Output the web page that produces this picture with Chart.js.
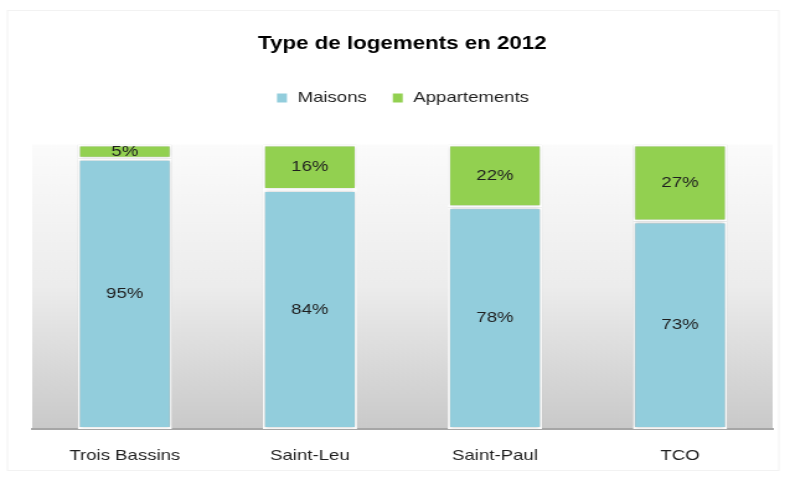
<!DOCTYPE html>
<html>
<head>
<meta charset="utf-8">
<script src="https://cdn.jsdelivr.net/npm/chart.js@4"></script>
<style>
  body { margin: 0; background: #fff; }
</style>
</head>
<body>
<!-- drawn narrower and stretched sideways, like the original picture -->
<canvas id="logements" width="633" height="477" style="width:785px;height:477px;display:block"></canvas>
<script>
const categories = ['Trois Bassins', 'Saint-Leu', 'Saint-Paul', 'TCO'];
const maisons = [95, 84, 78, 73];
const appartements = [5, 16, 22, 27];

const font = "'Liberation Sans', Arial, sans-serif";

// gradient behind the bars + faint outer frame
const plotBackground = {
  id: 'plotBackground',
  beforeLayout(chart) {
    // extra room under the legend
    const lg = chart.legend;
    if (lg && !lg._patched) {
      const fit = lg.fit;
      lg.fit = function () { fit.call(this); this.height += 29; };
      lg._patched = true;
    }
  },
  beforeDraw(chart) {
    const { ctx, chartArea: a } = chart;
    ctx.save();
    ctx.strokeStyle = '#f2f2f2';
    ctx.lineWidth = 1;
    ctx.strokeRect(6, 10.5, 622, 460);
    const g = ctx.createLinearGradient(0, a.top, 0, a.bottom);
    g.addColorStop(0, '#fbfbfb');
    g.addColorStop(0.5, '#ececec');
    g.addColorStop(1, '#c9c9c9');
    ctx.fillStyle = g;
    ctx.fillRect(a.left, a.top, a.right - a.left, a.bottom - a.top);
    ctx.restore();
  },
  beforeDatasetsDraw(chart) {
    chart.ctx.save();
    chart.ctx.shadowColor = 'rgba(0,0,0,0.25)';
    chart.ctx.shadowBlur = 3;
  },
  afterDatasetsDraw(chart) {
    chart.ctx.restore();
  }
};

// percentage labels in the middle of each segment
const segmentLabels = {
  id: 'segmentLabels',
  afterDatasetsDraw(chart) {
    const { ctx } = chart;
    ctx.save();
    ctx.font = '15px ' + font;
    ctx.fillStyle = '#1f1f1f';
    ctx.textAlign = 'center';
    ctx.textBaseline = 'middle';
    chart.data.datasets.forEach((ds, i) => {
      chart.getDatasetMeta(i).data.forEach((bar, j) => {
        const mid = (bar.y + bar.base) / 2;
        ctx.fillText(ds.data[j] + '%', bar.x, mid);
      });
    });
    ctx.restore();
  }
};

new Chart(document.getElementById('logements'), {
  type: 'bar',
  data: {
    labels: categories,
    datasets: [
      {
        label: 'Maisons',
        data: maisons,
        backgroundColor: '#92cddc',
        borderColor: '#ffffff',
        borderWidth: 2,
        borderSkipped: false
      },
      {
        label: 'Appartements',
        data: appartements,
        backgroundColor: '#92d050',
        borderColor: '#ffffff',
        borderWidth: 2,
        borderSkipped: false
      }
    ]
  },
  options: {
    responsive: false,
    animation: false,
    devicePixelRatio: 1,
    datasets: { bar: { categoryPercentage: 1, barPercentage: 0.51 } },
    layout: { padding: { left: 26, right: 10, bottom: -6 } },
    scales: {
      x: {
        stacked: true,
        grid: { display: false, drawTicks: false },
        border: { color: '#a6a6a6', width: 2 },
        ticks: { color: '#1f1f1f', font: { family: font, size: 15 }, padding: 18 }
      },
      y: {
        stacked: true,
        display: false,
        min: 0,
        max: 100
      }
    },
    plugins: {
      title: {
        display: true,
        text: 'Type de logements en 2012',
        color: '#000',
        font: { family: font, size: 18, weight: 'bold' },
        padding: { top: 33, bottom: 16 }
      },
      legend: {
        labels: {
          color: '#1f1f1f',
          font: { family: font, size: 15 },
          boxWidth: 10,
          boxHeight: 11,
          padding: 20
        }
      },
      tooltip: { enabled: false }
    }
  },
  plugins: [plotBackground, segmentLabels]
});
</script>
</body>
</html>
